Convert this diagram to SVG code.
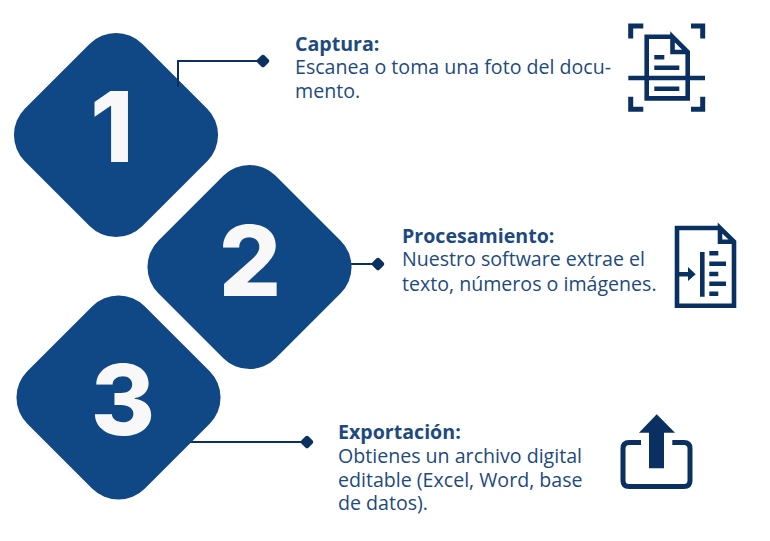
<svg xmlns="http://www.w3.org/2000/svg" width="770" height="541" viewBox="0 0 770 541">
<style>
.d{fill:#104885}
.n{font-family:Inter,"Liberation Sans",sans-serif;font-weight:800;font-size:98px;fill:#f8f8f8;text-anchor:middle}
.t{font-family:"Open Sans",sans-serif;font-size:19.6px;fill:#1d4a80}
.b{font-weight:700}
.c{fill:none;stroke:#0a3061;stroke-width:2}
.m{fill:#0a3061}
.i{fill:none;stroke:#0a3061;stroke-width:4.600}
.f{fill:#0a3061}
</style>
<rect width="770" height="541" fill="#fff"/>
<g id="connectors">
<path class="c" d="M178 87V61H260"/>
<path class="c" d="M350 264H376"/>
<path class="c" d="M188 442H304"/>
</g>
<g id="node-1">
<rect class="d" x="33" y="52" width="166" height="166" rx="37" transform="rotate(45 116 135)"/>
<path class="c" d="M178 87V76"/>
<text class="n" x="112" y="162">1</text>
<rect class="m" x="258" y="56" width="10" height="10" rx="2" transform="rotate(45 263 61)"/>
<text class="t" x="295" y="51"><tspan class="b">Captura:</tspan><tspan x="295" y="74">Escanea o toma una foto del docu-</tspan><tspan x="295" y="98">mento.</tspan></text>
<g id="icon-1">
<path class="i" style="stroke-width:5" d="M643.300 26H630.700V38.500M691 26H702.700V38.500M630.700 96.700V109.300H643.300M702.700 96.700V109.300H691"/>
<path class="i" d="M672.500 36.800H646.700V98.400H687.700V52L672.500 36.800V52H687.700"/>
<path class="i" d="M654.300 57.300H664.300M654.300 67.700H679.300M628.300 78H705M654.300 88.700H679.300"/>
</g>
</g>
<g id="node-2">
<rect class="d" x="166.500" y="184" width="166" height="166" rx="37" transform="rotate(45 249.500 267)"/>
<text class="n" x="250" y="296">2</text>
<rect class="m" x="373" y="259" width="10" height="10" rx="2" transform="rotate(45 378 264)"/>
<text class="t" x="402" y="243"><tspan class="b">Procesamiento:</tspan><tspan x="402" y="266">Nuestro software extrae el</tspan><tspan x="402" y="291">texto, números o imágenes.</tspan></text>
<g id="icon-2">
<path class="i" d="M720 228H677V305.700H734V241.700L720 228V241.700H734"/>
<path class="i" d="M702.300 252V296.700M709.300 253.300H718.300M709.300 263.700H726M709.300 274H718.300M709.300 283.700H726M709.300 293.700H718.300M679 274.300H690"/>
<path class="f" d="M688 267L695.700 274.300L688 281Z"/>
</g>
</g>
<g id="node-3">
<rect class="d" x="35.500" y="314.500" width="166" height="166" rx="37" transform="rotate(45 118.500 397.500)"/>
<text class="n" x="123" y="435">3</text>
<rect class="m" x="302" y="437" width="10" height="10" rx="2" transform="rotate(45 307 442)"/>
<text class="t" x="338" y="439"><tspan class="b">Exportación:</tspan><tspan x="338" y="463">Obtienes un archivo digital</tspan><tspan x="338" y="487">editable (Excel, Word, base</tspan><tspan x="338" y="510">de datos).</tspan></text>
<g id="icon-3">
<path class="i" style="stroke-width:5" d="M641 442.500H629Q623 442.500 623 448.500V480.500Q623 486.500 629 486.500H684Q690 486.500 690 480.500V448.500Q690 442.500 684 442.500H672.300"/>
<path class="f" d="M656.700 414.300L675 432.700H664V468.300H649V432.700H639Z"/>
</g>
</g>
</svg>
